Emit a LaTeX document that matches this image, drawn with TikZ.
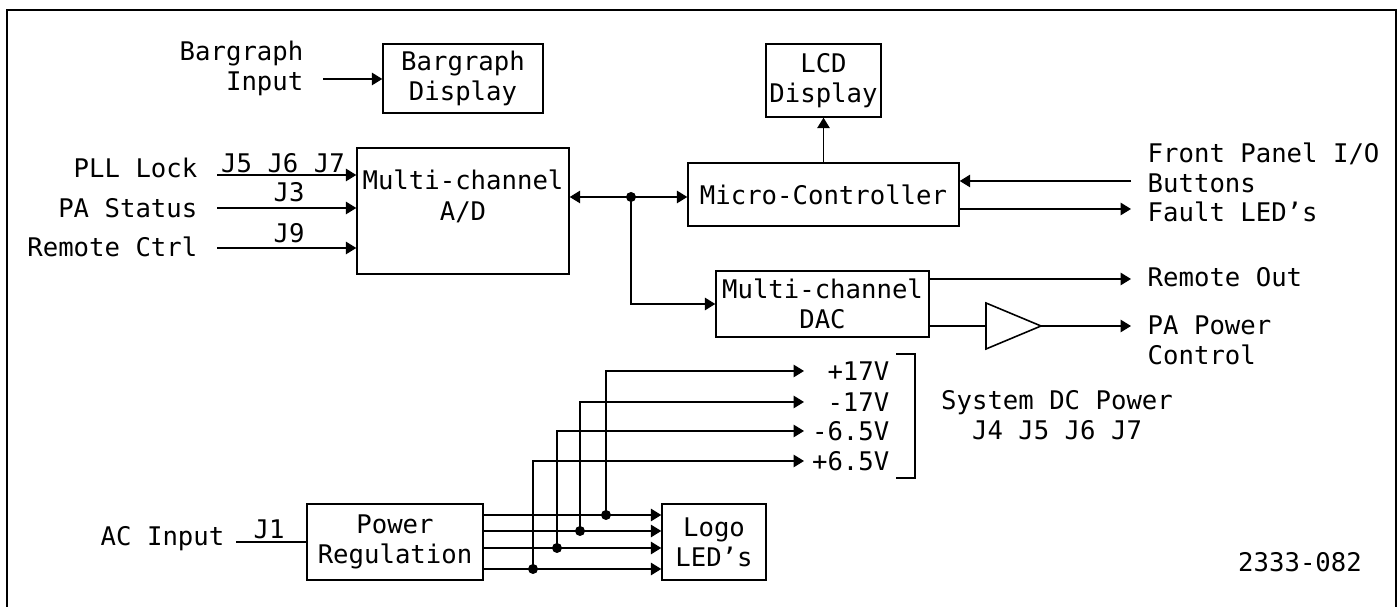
\documentclass[tikz,border=0pt]{standalone}
\usepackage{fontspec}
\setmainfont{DejaVu Sans Mono}
\usetikzlibrary{arrows.meta}

\begin{document}
\begin{tikzpicture}[font=\fontsize{7.3}{8.6}\selectfont,
    blk/.style={draw,line width=0.4pt,inner sep=0pt,align=center},
    txt/.style={inner sep=0pt,align=center},
    wire/.style={line width=0.45pt},
    sig/.style={wire,-{Triangle[length=1.05mm,width=1.25mm]}},
    bisig/.style={wire,{Triangle[length=1.05mm,width=1.25mm]}-{Triangle[length=1.05mm,width=1.25mm]}},
    dot/.style={circle,fill,inner sep=0pt,minimum size=1mm}]
    \useasboundingbox (0,0) rectangle (13.98,6.07);
    \draw[line width=0.7pt] (0.07,-0.2) |- (13.96,5.97) -- (13.96,-0.2);

    % Bargraph
    \node[blk,minimum width=1.60cm,minimum height=0.69cm] (bar) at (4.63,5.285) {Bargraph\\Display};
    \node[txt,align=right,anchor=east] (barin) at (3.04,5.385) {Bargraph\\Input};
    \coordinate (barin-e) at (3.23,5.28);
    \draw[sig] (barin-e) -- (bar.west |- barin-e);

    % A/D and its inputs
    \node[blk,minimum width=2.12cm,minimum height=1.26cm] (ad) at (4.63,3.96) {};
    \node[txt] (adtxt) at (4.63,4.105) {Multi-channel\\A/D};
    \node[txt,anchor=east] (pll) at (1.98,4.39) {PLL Lock};
    \coordinate (pll-e) at (2.17,4.32);
    \draw[sig] (pll-e) -- (ad.west |- pll-e);
    \node[txt,anchor=base] (pllj) at (2.83,4.34) {J5 J6 J7};
    \node[txt,anchor=east] (pas) at (1.98,3.99) {PA Status};
    \coordinate (pas-e) at (2.17,3.99);
    \draw[sig] (pas-e) -- (ad.west |- pas-e);
    \node[txt,anchor=base] (pasj) at (2.89,4.05) {J3};
    \node[txt,anchor=east] (rem) at (1.98,3.60) {Remote Ctrl};
    \coordinate (rem-e) at (2.17,3.59);
    \draw[sig] (rem-e) -- (ad.west |- rem-e);
    \node[txt,anchor=base] (remj) at (2.89,3.64) {J9};

    % Micro-Controller, LCD, DAC
    \node[blk,minimum width=2.71cm,minimum height=0.63cm] (mcu) at (8.235,4.125) {Micro-Controller};
    \node[blk,minimum width=1.15cm,minimum height=0.73cm] (lcd) at (8.235,5.265) {LCD\\Display};
    \draw[sig] (mcu.north) -- (lcd.south);
    \node[blk,minimum width=2.13cm,minimum height=0.66cm] (dac) at (8.225,3.03) {Multi-channel\\DAC};
    \node[dot] (jn) at (6.31,4.10) {};
    \draw[bisig] (ad.east |- jn) -- (mcu.west |- jn);
    \draw[sig] (jn.center) |- (dac.west);

    % Front panel side
    \coordinate (fp) at (11.31,4.26);
    \draw[sig] (fp) -- (mcu.east |- fp);
    \node[txt,anchor=west,align=left] (fptxt) at (11.47,4.39) {Front Panel I/O\\Buttons};
    \coordinate (flt) at (11.31,3.98);
    \draw[sig] (mcu.east |- flt) -- (flt);
    \node[txt,anchor=west] (flttxt) at (11.47,3.95) {Fault LED's};
    \coordinate (ro) at (11.31,3.28);
    \draw[sig] (dac.east |- ro) -- (ro);
    \node[txt,anchor=west] (rotxt) at (11.47,3.30) {Remote Out};
    \coordinate (amp-in) at (9.86,2.81);
    \coordinate (amp-out) at (10.41,2.81);
    \draw[wire] (dac.east |- amp-in) -- (amp-in);
    \draw[wire] (9.86,3.04) -- (amp-out) -- (9.86,2.58) -- cycle;
    \coordinate (pa) at (11.31,2.81);
    \draw[sig] (amp-out) -- (pa);
    \node[txt,anchor=west,align=left] (patxt) at (11.47,2.67) {PA Power\\Control};

    % Power
    \node[blk,minimum width=1.76cm,minimum height=0.76cm] (preg) at (3.95,0.65) {Power\\Regulation};
    \node[blk,minimum width=1.04cm,minimum height=0.76cm] (logo) at (7.14,0.65) {Logo\\LED's};
    \node[txt,anchor=east] (acin) at (2.25,0.68) {AC Input};
    \coordinate (ac-e) at (2.36,0.65);
    \draw[wire] (ac-e) -- (preg.west |- ac-e);
    \node[txt,anchor=base] (j1) at (2.69,0.68) {J1};
    \foreach \n/\yy/\xx/\yt/\vlab in {a/0.92/6.06/2.36/+17V, b/0.76/5.80/2.05/-17V,
                                      c/0.59/5.57/1.76/-6.5V, d/0.38/5.33/1.46/+6.5V} {
      \node[dot] (tap-\n) at (\xx,\yy) {};
      \draw[sig] (preg.east |- tap-\n) -- (logo.west |- tap-\n);
      \coordinate (rail-\n) at (8.04,\yt);
      \draw[sig] (tap-\n.center) |- (rail-\n);
      \node[txt,anchor=east] (v-\n) at (8.90,\yt) {\vlab};
    }
    \draw[wire] (8.96,2.53) -| (9.15,1.29) -- (8.96,1.29);
    \node[txt] (sysdc) at (10.57,1.92) {System DC Power\\J4 J5 J6 J7};
    \node[txt] (dwg) at (13.0,0.45) {2333-082};
\end{tikzpicture}
\end{document}
